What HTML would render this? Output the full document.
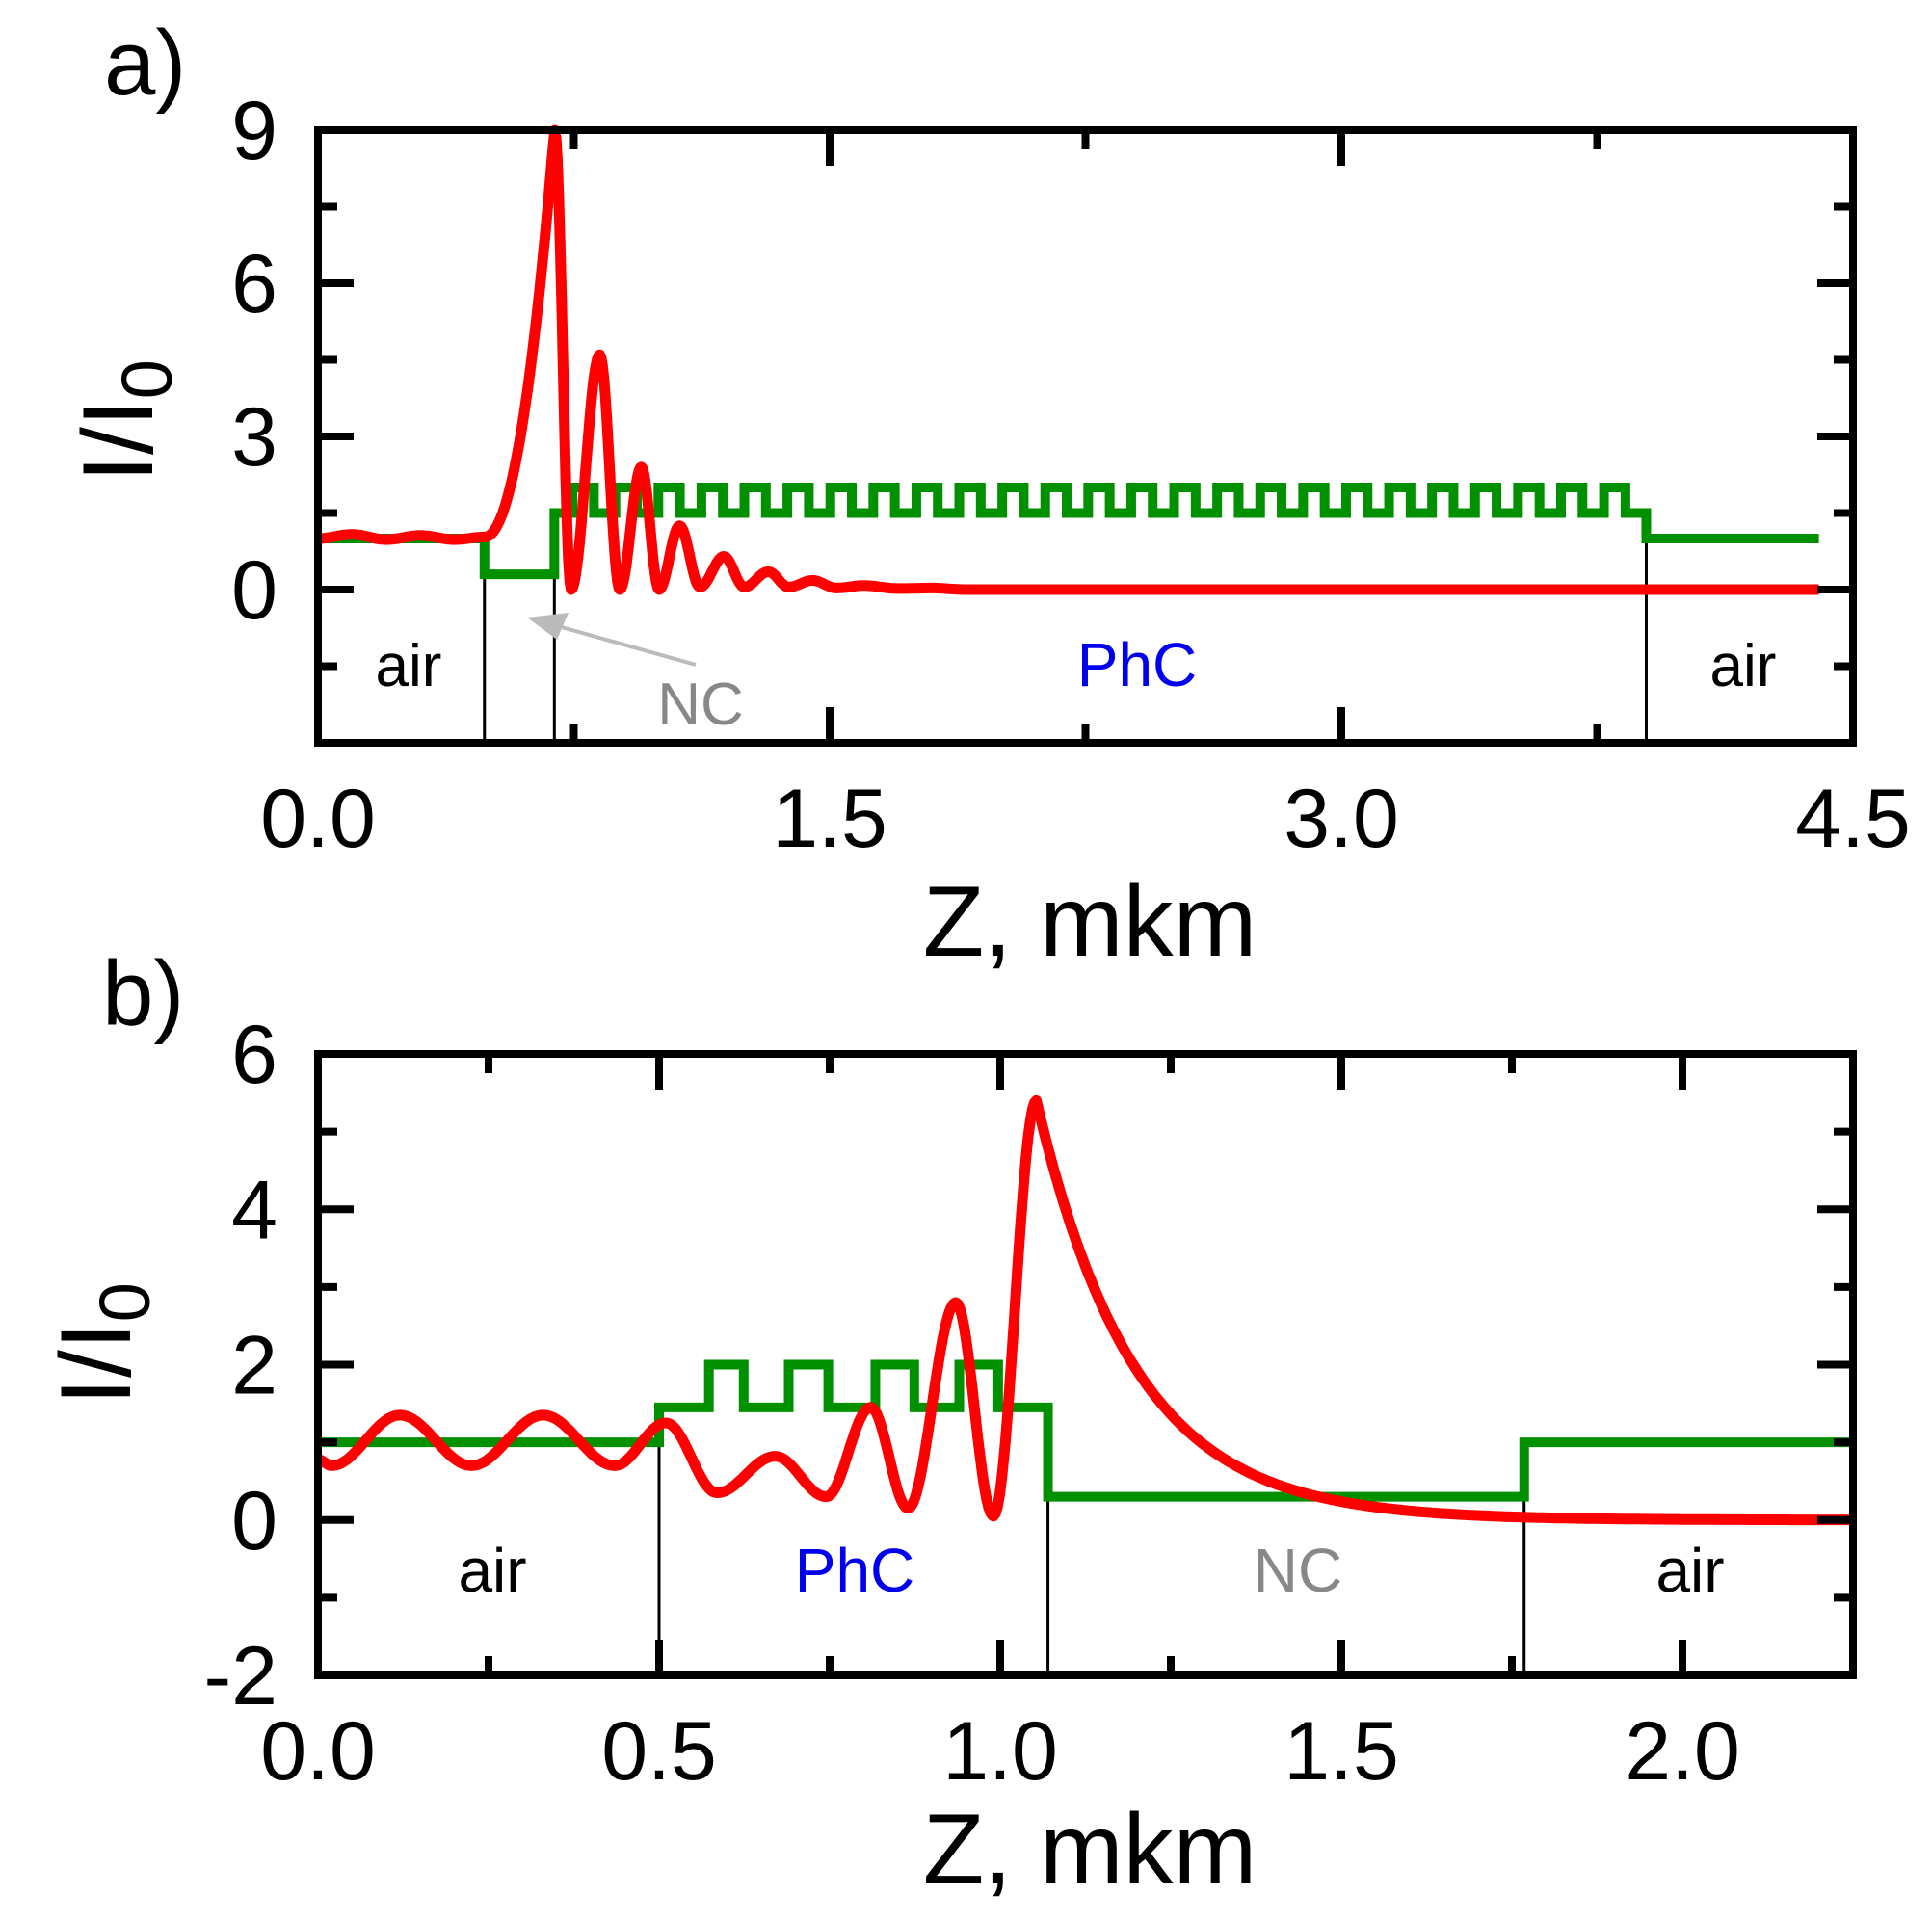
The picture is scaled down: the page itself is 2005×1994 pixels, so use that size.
<!DOCTYPE html>
<html><head><meta charset="utf-8"><style>
html,body{margin:0;padding:0;background:#fff}
svg text{font-family:"Liberation Sans",Arial,sans-serif}
</style></head><body>
<svg id="s" xmlns="http://www.w3.org/2000/svg" width="2005" height="1989" viewBox="0 0 2005 1989">
<rect width="2005" height="1989" fill="#fff"/>
<g id="g"></g>
<text x="108" y="98" font-size="96">a)</text>
<text x="106" y="1064" font-size="96">b)</text>
<text x="1131" y="992" font-size="104" text-anchor="middle">Z, mkm</text>
<text x="1131" y="1955" font-size="104" text-anchor="middle">Z, mkm</text>
<g transform="translate(158,437) rotate(-90)"><text font-size="104" text-anchor="middle">I/I<tspan font-size="74" dy="20">0</tspan></text></g>
<g transform="translate(135,1395) rotate(-90)"><text font-size="104" text-anchor="middle">I/I<tspan font-size="74" dy="20">0</tspan></text></g>
<text x="424" y="712" font-size="62" text-anchor="middle">air</text>
<text x="727" y="752" font-size="62" text-anchor="middle" fill="#888">NC</text>
<text x="1180" y="712" font-size="64" text-anchor="middle" fill="#0000ee">PhC</text>
<text x="1809" y="712" font-size="62" text-anchor="middle">air</text>
<line x1="722" y1="690" x2="565" y2="646" stroke="#bbb" stroke-width="4"/>
<polygon points="547,641 590,636 578,664" fill="#bbb"/>
<text x="511" y="1652" font-size="64" text-anchor="middle">air</text>
<text x="887" y="1652" font-size="64" text-anchor="middle" fill="#0000ee">PhC</text>
<text x="1347" y="1652" font-size="64" text-anchor="middle" fill="#888">NC</text>
<text x="1754" y="1652" font-size="64" text-anchor="middle">air</text>
</svg>
<script>
var g=document.getElementById('g'),NS='http://www.w3.org/2000/svg';
function el(t,a){var e=document.createElementNS(NS,t);for(var k in a)e.setAttribute(k,a[k]);g.appendChild(e);return e;}
function txt(x,y,s,anchor){var e=el('text',{x:x,y:y,'font-size':86,'text-anchor':anchor});e.textContent=s;}
function panel(P){
 var X=function(z){return P.x0+(z-P.zmin)/(P.zmax-P.zmin)*(P.x1-P.x0)};
 var Y=function(v){return P.y1-(v-P.vmin)/(P.vmax-P.vmin)*(P.y1-P.y0)};
 P.vl.forEach(function(a){el('line',{x1:X(a[0]),x2:X(a[0]),y1:Y(a[1]),y2:P.y1,stroke:'#000','stroke-width':3});});
 var d='M'+X(P.gr[0][0])+' '+Y(P.gr[0][1]);
 for(var i=1;i<P.gr.length;i++){d+=' L'+X(P.gr[i][0])+' '+Y(P.gr[i-1][1])+' L'+X(P.gr[i][0])+' '+Y(P.gr[i][1]);}
 el('path',{d:d,fill:'none',stroke:'#009000','stroke-width':10});
 var pts=P.red(),rd='';
 pts.forEach(function(p,i){rd+=(i?' L':'M')+X(p[0]).toFixed(1)+' '+Y(p[1]).toFixed(1);});
 el('path',{d:rd,fill:'none',stroke:'#ff0000','stroke-width':11,'stroke-linejoin':'round'});
 el('rect',{x:P.x0,y:P.y0,width:P.x1-P.x0,height:P.y1-P.y0,fill:'none',stroke:'#000','stroke-width':8});
 P.xt.forEach(function(t){var L=t[1]?37:20,x=X(t[0]);
  el('line',{x1:x,x2:x,y1:P.y1,y2:P.y1-L,stroke:'#000','stroke-width':8});
  el('line',{x1:x,x2:x,y1:P.y0,y2:P.y0+L,stroke:'#000','stroke-width':8});
  if(t[1])txt(x,P.y1+108,t[1],'middle');});
 P.yt.forEach(function(t){var L=t[1]?37:20,y=Y(t[0]);
  el('line',{x1:P.x0,x2:P.x0+L,y1:y,y2:y,stroke:'#000','stroke-width':8});
  el('line',{x1:P.x1,x2:P.x1-L,y1:y,y2:y,stroke:'#000','stroke-width':8});
  if(t[1])txt(P.x0-42,y+30,t[1],'end');});
}
function cosi(K,step){var out=[];for(var i=0;i<K.length-1;i++){var a=K[i],b=K[i+1];for(var z=a[0];z<b[0];z+=step){var t=(z-a[0])/(b[0]-a[0]);out.push([z,a[1]+(b[1]-a[1])*(1-Math.cos(Math.PI*t))/2]);}}out.push(K[K.length-1]);return out;}
var gA=[[0,1],[0.488,0.3],[0.693,1.5]];
for(var k=0;k<25;k++){var s=0.746+k*0.126;gA.push([s,2.0]);gA.push([s+0.063,1.5]);}
gA.push([3.894,1.0]);gA.push([4.40,1.0]);
panel({x0:330,x1:1923,y0:135,y1:771,zmin:0,zmax:4.5,vmin:-3,vmax:9,
 vl:[[0.488,1.0],[0.693,1.5],[3.894,1.5]],gr:gA,
 red:function(){var a=cosi([[0,1.0],[0.1,1.08],[0.2,0.98],[0.3,1.06],[0.4,0.98],[0.488,1.03]],0.005);
   for(var z=0.49;z<0.69;z+=0.004){var t=(z-0.488)/0.205;a.push([z,1.03+7.97*Math.pow(t,2.1)]);}
   return a.concat(cosi([[0.694,9],[0.742,0],[0.826,4.6],[0.885,0],[0.948,2.4],[1.0,0],[1.06,1.25],[1.12,0.05],[1.19,0.65],[1.25,0.05],[1.32,0.35],[1.38,0.05],[1.45,0.18],[1.52,0.03],[1.6,0.08],[1.7,0.02],[1.8,0.03],[1.9,0],[4.40,0]],0.004));},
 xt:[[0,'0.0'],[0.75],[1.5,'1.5'],[2.25],[3,'3.0'],[3.75],[4.5,'4.5']],
 yt:[[-1.5],[0,'0'],[1.5],[3,'3'],[4.5],[6,'6'],[7.5],[9,'9']]});
var gB=[[0,1],[0.5,1.45],[0.573,2.0],[0.624,1.45],[0.69,2.0],[0.748,1.45],[0.817,2.0],[0.874,1.45],[0.94,2.0],[0.997,1.45],[1.07,0.3],[1.768,1.0],[2.25,1.0]];
panel({x0:330,x1:1923,y0:1094,y1:1739,zmin:0,zmax:2.25,vmin:-2,vmax:6,
 vl:[[0.5,1.25],[1.07,1.45],[1.768,1.0]],gr:gB,
 red:function(){var a=cosi([[0,0.78],[0.02,0.7],[0.12,1.35],[0.225,0.7],[0.33,1.35],[0.435,0.7],[0.51,1.25],[0.585,0.35],[0.67,0.82],[0.745,0.3],[0.81,1.45],[0.865,0.15],[0.935,2.8],[0.99,0.05],[1.053,5.4]],0.003);
   for(var z=1.056;z<=2.25;z+=0.004){a.push([z,5.4*Math.exp(-(z-1.053)/0.143)]);}return a;},
 xt:[[0,'0.0'],[0.25],[0.5,'0.5'],[0.75],[1,'1.0'],[1.25],[1.5,'1.5'],[1.75],[2,'2.0']],
 yt:[[-2,'-2'],[-1],[0,'0'],[1],[2,'2'],[3],[4,'4'],[5],[6,'6']]});
</script>
</body></html>
